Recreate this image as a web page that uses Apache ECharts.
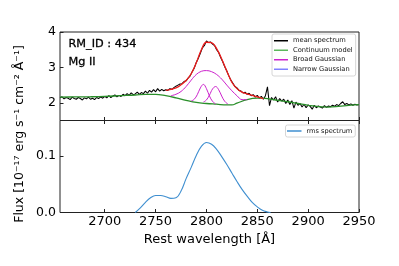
<!DOCTYPE html>
<html><head><meta charset="utf-8">
<script src="https://cdn.jsdelivr.net/npm/echarts@6/dist/echarts.min.js"></script>
<style>html,body{margin:0;padding:0;background:#fff}#c{width:399px;height:266px}</style>
</head><body><div id="c"></div>
<script>
// ---------- data ----------
const meanStart = 2656, meanStep = 2;
const meanFlux = [
 2.14,2.17,2.11,2.15,2.13,2.09,2.16,2.12,2.10,2.15,
 2.12,2.08,2.14,2.11,2.16,2.10,2.13,2.09,2.15,2.12,
 2.17,2.13,2.18,2.14,2.20,2.15,2.19,2.22,2.17,2.21,
 2.18,2.24,2.20,2.26,2.21,2.28,2.23,2.25,2.30,2.24,
 2.29,2.26,2.33,2.27,2.35,2.30,2.37,2.31,2.40,2.33,
 2.38,2.34,2.37,2.35,2.40,2.38,2.43,2.47,2.50,2.53,
 2.54,2.60,2.62,2.70,2.76,2.88,2.98,3.14,3.26,3.40,
 3.55,3.62,3.75,3.70,3.72,3.66,3.62,3.50,3.42,3.28,
 3.16,3.02,2.90,2.76,2.64,2.55,2.46,2.42,2.35,2.33,
 2.28,2.30,2.24,2.27,2.20,2.23,2.16,2.21,2.13,2.18,
 2.10,2.20,2.45,1.92,2.15,2.08,2.17,2.02,2.12,2.05,
 2.10,1.98,2.08,1.95,2.06,1.85,2.02,1.93,1.98,1.88,
 1.96,1.86,1.94,1.90,1.82,1.93,1.86,1.91,1.88,1.85,
 1.92,1.87,1.91,1.89,1.93,1.90,1.95,1.92,1.98,2.03,
 1.95,1.98,1.94,1.97,1.93,1.96,1.94,1.95
];
const contWave = [2656,2670,2685,2700,2715,2730,2740,2750,2760,2770,2780,2790,2800,2810,2820,2825,2830,2840,2850,2855,2860,2870,2880,2890,2900,2910,2920,2930,2940,2950];
const contFlux = [2.16,2.165,2.17,2.18,2.20,2.22,2.24,2.24,2.20,2.14,2.07,2.01,1.98,1.96,1.94,1.94,1.99,2.09,2.13,2.13,2.12,2.07,2.03,1.98,1.93,1.89,1.88,1.90,1.93,1.95];
const broadWave = [2765,2770,2775,2780,2785,2790,2795,2800,2805,2810,2815,2820,2825,2830,2835,2840];
const broadFlux = [2.20,2.24,2.32,2.46,2.64,2.80,2.89,2.91,2.88,2.80,2.67,2.50,2.34,2.20,2.09,2.09];
const narrow1Wave = [2785,2788,2791,2794,2797,2800,2803,2806,2809];
const narrow1Flux = [2.05,2.10,2.23,2.42,2.52,2.40,2.19,2.04,1.97];
const narrow2Wave = [2797,2800,2803,2806,2809,2812,2815,2818,2821];
const narrow2Flux = [2.02,2.08,2.22,2.39,2.46,2.37,2.19,2.04,1.97];
const modelWave = [2760,2765,2770,2775,2780,2785,2790,2795,2800,2805,2810,2815,2820,2825,2830,2835,2840,2845,2850,2856];
const modelFlux = [2.35,2.38,2.42,2.51,2.63,2.82,3.13,3.50,3.71,3.70,3.53,3.24,2.90,2.58,2.40,2.30,2.25,2.21,2.17,2.12];
const rmsWave = [2730,2735,2740,2745,2750,2755,2760,2765,2770,2775,2780,2785,2790,2795,2800,2805,2810,2815,2820,2825,2830,2835,2840,2845,2850,2855,2860,2863];
const rmsFlux = [0.000,0.008,0.018,0.026,0.030,0.030,0.028,0.025,0.026,0.038,0.060,0.080,0.101,0.117,0.124,0.121,0.112,0.099,0.085,0.070,0.055,0.041,0.029,0.018,0.010,0.004,0.001,0.000];
const xTicks = [2700,2750,2800,2850,2900,2950];
const yTopTicks = [2,3,4];
const yBotTicks = [0,0.1];

// ---------- chart ----------
const FONT = 'DejaVu Sans';
const pairs = (xs, ys) => xs.map((x, i) => [x, ys[i]]);
const meanWave = meanFlux.map((_, i) => meanStart + i * meanStep);
const AX = '#222';

function xAxis(grid, showLabels, pos) {
  return {
    gridIndex: grid, type: 'value', min: 2656, max: 2950, position: pos,
    axisLine: {show: false},
    axisTick: {show: true, inside: true, length: 3.5, lineStyle: {color: AX, width: 1}, customValues: xTicks},
    axisLabel: {show: showLabels, customValues: xTicks, fontSize: 13, color: '#000', fontFamily: FONT, margin: 3,
                formatter: v => String(Math.round(v))},
    splitLine: {show: false}
  };
}
function line(name, xs, ys, color, width, xi, yi, smooth, z) {
  return {
    type: 'line', name, data: pairs(xs, ys), xAxisIndex: xi, yAxisIndex: yi,
    showSymbol: false, symbol: 'none', smooth: smooth, z: z,
    itemStyle: {color}, lineStyle: {color, width}, emphasis: {disabled: true}, animation: false
  };
}

const chart = echarts.init(document.getElementById('c'), null, {renderer: 'canvas'});
chart.setOption({
  animation: false,
  backgroundColor: '#fff',
  textStyle: {fontFamily: FONT},
  grid: [
    {left: 60, top: 32, width: 299, height: 88.5, show: true, borderColor: AX, borderWidth: 1, backgroundColor: 'transparent'},
    {left: 60, top: 120.5, width: 299, height: 92, show: true, borderColor: AX, borderWidth: 1, backgroundColor: 'transparent'}
  ],
  xAxis: [
    xAxis(0, false, 'bottom'),
    Object.assign(xAxis(1, true, 'bottom'), {
      name: 'Rest wavelength [Å]', nameLocation: 'middle', nameGap: 21,
      nameTextStyle: {fontSize: 13, color: '#000', fontFamily: FONT}
    }),
    xAxis(1, false, 'top')
  ],
  yAxis: [
    {gridIndex: 0, type: 'value', min: 1.5, max: 4,
     axisLine: {show: false},
     axisTick: {show: true, inside: true, length: 3.5, lineStyle: {color: AX}, customValues: yTopTicks},
     axisLabel: {customValues: yTopTicks, fontSize: 12.5, color: '#000', fontFamily: FONT, margin: 4},
     splitLine: {show: false}},
    {gridIndex: 1, type: 'value', min: 0, max: 0.163,
     axisLine: {show: false},
     axisTick: {show: true, inside: true, length: 3.5, lineStyle: {color: AX}, customValues: yBotTicks},
     axisLabel: {customValues: yBotTicks, fontSize: 12.5, color: '#000', fontFamily: FONT, margin: 4,
                 formatter: v => Number(v).toFixed(1)},
     splitLine: {show: false}}
  ],
  legend: [
    {data: ['mean spectrum', {name: 'Continuum model', itemStyle: {color: '#5cb85c'}}, 'Broad Gaussian', {name: 'Narrow Gaussian', itemStyle: {color: '#8080ff'}}],
     orient: 'vertical', left: 272, top: 34, padding: [3, 3, 3, 2], itemWidth: 14, itemHeight: 1.5, itemGap: 2,
     icon: 'rect', selectedMode: false,
     textStyle: {fontSize: 6.7, lineHeight: 7.5, color: '#111', fontFamily: FONT},
     borderColor: '#cccccc', borderWidth: 0.8, borderRadius: 2, backgroundColor: '#fff'},
    {data: ['rms spectrum'],
     orient: 'vertical', left: 285.5, top: 125, padding: [2, 3, 2, 1.5], itemWidth: 14.5, itemHeight: 1.5, itemGap: 2,
     icon: 'rect', selectedMode: false,
     textStyle: {fontSize: 6.6, lineHeight: 8, color: '#111', fontFamily: FONT},
     borderColor: '#cccccc', borderWidth: 0.8, borderRadius: 2, backgroundColor: '#fff'}
  ],
  graphic: [
    {type: 'text', x: 68.5, y: 44, style: {text: 'RM_ID : 434', fontSize: 11.3, fontFamily: FONT, fill: '#000', align: 'left', verticalAlign: 'middle', stroke: '#000', lineWidth: 0.3}},
    {type: 'text', x: 68.5, y: 62, style: {text: 'Mg II', fontSize: 11.3, fontFamily: FONT, fill: '#000', align: 'left', verticalAlign: 'middle', stroke: '#000', lineWidth: 0.3}},
    {type: 'text', x: 20, y: 134, rotation: Math.PI / 2,
     style: {text: 'Flux [10⁻¹⁷ erg s⁻¹ cm⁻² Å⁻¹]', fontSize: 12.5, fontFamily: FONT, fill: '#000', align: 'center', verticalAlign: 'middle'}}
  ],
  series: [
    line('mean spectrum', meanWave, meanFlux, '#000000', 1.05, 0, 0, false, 2),
    line('Continuum model', contWave, contFlux, '#2a8f2a', 1.3, 0, 0, 0.4, 3),
    line('Broad Gaussian', broadWave, broadFlux, '#cc22cc', 1, 0, 0, 0.4, 4),
    line('Broad Gaussian', narrow1Wave, narrow1Flux, '#cc22cc', 1, 0, 0, 0.4, 4),
    line('Broad Gaussian', narrow2Wave, narrow2Flux, '#cc22cc', 1, 0, 0, 0.4, 4),
    line('Narrow Gaussian', [], [], '#8080ff', 1, 0, 0, false, 4),
    line('model', modelWave, modelFlux, '#ee1c1c', 1.3, 0, 0, 0.4, 5),
    line('rms spectrum', rmsWave, rmsFlux, '#3f8fd0', 1.1, 1, 1, 0.4, 3)
  ]
});
</script></body></html>
